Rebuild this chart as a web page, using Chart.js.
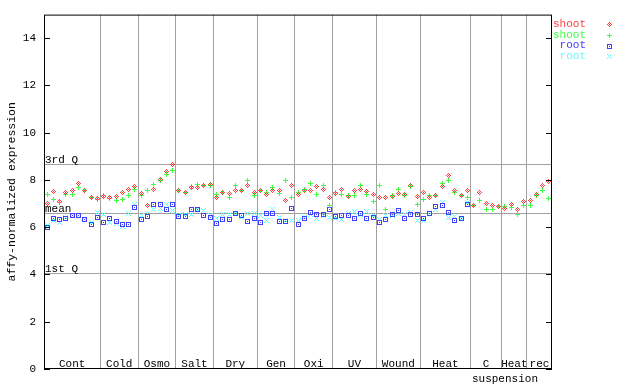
<!DOCTYPE html>
<html><head><meta charset="utf-8">
<script src="https://cdn.jsdelivr.net/npm/chart.js@4/dist/chart.umd.min.js"></script>
<style>html,body{margin:0;padding:0;background:#fff}canvas{display:block}</style>
</head><body>
<div style="width:640px;height:384px"><canvas id="c" width="640" height="384"></canvas></div>
<script>
// ---- data ----
const groupLabels = ["Cont","Cold","Osmo","Salt","Dry","Gen","Oxi","UV","Wound","Heat","C","Heat","rec"];
const groupSizes  = [9,6,6,6,7,6,6,7,7,8,5,4,4];
const subLabel = "suspension"; // second line under group "C"
const subLabelGroup = 10;
const yTicks = [0,2,4,6,8,10,12,14];
const refLabels = ["3rd Q","mean","1st Q"];
const refValues = [8.67, 6.62, 4.07];
const seriesNames = ["shoot","shoot","root","root"];

const shootA = [
 7.02,7.50,7.10,7.49,7.54,7.87,7.54,7.26,7.22,
 7.30,7.26,7.29,7.45,7.61,7.72,
 7.43,6.91,7.61,8.04,8.34,8.67,
 7.54,7.45,7.68,7.68,7.75,7.82,
 7.26,7.45,7.43,7.57,7.57,7.78,7.45,
 7.57,7.40,7.54,7.57,7.12,7.78,
 7.40,7.54,7.57,7.71,7.61,7.26,
 7.43,7.61,7.29,7.57,7.61,7.50,7.40,
 7.24,7.24,7.29,7.43,7.40,7.75,7.29,
 7.47,7.26,7.36,7.71,8.18,7.54,7.36,7.54,
 6.94,7.45,7.02,6.94,6.88,
 6.81,6.98,6.77,7.08,
 7.12,7.40,7.78,7.92];
const shootB = [
 7.40,7.19,7.05,7.40,7.40,7.68,7.54,7.26,7.19,
 7.33,7.23,7.12,7.16,7.33,7.61,
 7.36,7.57,7.82,7.99,8.22,8.42,
 7.57,7.48,7.71,7.80,7.75,7.75,
 7.40,7.45,7.26,7.75,7.54,7.96,7.33,
 7.54,7.47,7.68,7.43,7.99,7.26,
 7.47,7.61,7.85,7.40,7.75,6.91,
 7.47,7.40,7.36,7.36,7.75,7.40,7.09,
 7.75,6.77,7.36,7.61,7.36,7.71,6.95,
 7.19,7.36,7.36,7.87,7.99,7.47,7.33,7.26,
 6.94,7.12,6.77,6.73,6.87,
 6.88,6.84,6.52,6.91,
 6.91,7.33,7.57,7.23];
const rootA = [
 6.00,6.35,6.31,6.38,6.49,6.49,6.31,6.10,6.42,
 6.18,6.35,6.24,6.10,6.10,6.84,
 6.32,6.45,6.98,6.98,6.77,6.95,
 6.45,6.45,6.73,6.77,6.49,6.42,
 6.14,6.32,6.32,6.60,6.49,6.24,6.35,
 6.21,6.60,6.60,6.24,6.24,6.81,
 6.11,6.35,6.63,6.56,6.56,6.73,
 6.45,6.49,6.49,6.38,6.58,6.38,6.42,
 6.18,6.32,6.52,6.70,6.35,6.52,6.56,
 6.35,6.58,6.87,6.91,6.63,6.28,6.38,6.95,
 null,null,null,null,null,
 null,null,null,null,
 null,null,null,null];
const rootB = [
 6.07,6.28,6.18,6.42,6.49,6.49,6.31,6.21,6.63,
 6.56,6.18,6.14,6.04,6.60,6.98,
 6.49,6.58,6.77,6.80,6.98,6.70,
 6.49,6.52,6.56,6.77,6.70,6.49,
 6.35,6.56,6.56,6.60,6.42,6.60,6.60,
 6.49,6.28,6.73,6.42,6.28,6.28,
 6.28,6.42,6.56,6.35,6.49,6.42,
 6.35,6.31,6.60,6.66,6.52,6.66,6.49,
 6.32,6.49,6.49,6.60,6.56,6.63,6.28,
 6.28,6.63,6.73,7.05,6.42,6.45,6.35,7.05,
 null,null,null,null,null,
 null,null,null,null,
 null,null,null,null];

// ---- styling ----
const colors = ['#ff4040','#40ff40','#4040ff','#60ffff'];
const FONT = '"Liberation Mono", "DejaVu Sans Mono", monospace';
function marker(color, kind){
  const c = document.createElement('canvas'); c.width = 5; c.height = 5;
  const g = c.getContext('2d'); g.fillStyle = color;
  for (let dy=-2; dy<=2; dy++) for (let dx=-2; dx<=2; dx++){
    const ad=Math.abs(dx), bd=Math.abs(dy); let on=false;
    if (kind==='diamond') on = (ad+bd===2) || (ad+bd===0);
    if (kind==='plus') on = (dx===0 || dy===0);
    if (kind==='square') on = (Math.max(ad,bd)===2) || (ad+bd===0);
    if (kind==='x') on = (ad===bd);
    if (on) g.fillRect(dx+2, dy+2, 1, 1);
  }
  return c;
}
const markers = [marker(colors[0],'diamond'), marker(colors[1],'plus'), marker(colors[2],'square'), marker(colors[3],'x')];

const total = groupSizes.reduce((a,b)=>a+b,0);
const bounds = []; { let s=0; for (let i=0;i<groupSizes.length-1;i++){ s+=groupSizes[i]; bounds.push(s);} }
const toPts = arr => arr.map((v,i)=>({x:i+0.5, y:v}));
const allSeries = [shootA, shootB, rootA, rootB];

const decor = {
  id:'decor',
  beforeDatasetsDraw(chart){
    const {ctx, chartArea:a, scales:{y}} = chart;
    ctx.save();
    ctx.strokeStyle = '#a0a0a0'; ctx.lineWidth = 1;
    ctx.font = '11px ' + FONT; ctx.fillStyle = '#000'; ctx.textAlign='left'; ctx.textBaseline='alphabetic';
    refValues.forEach((v,i)=>{
      const py = Math.round(y.getPixelForValue(v)) + 0.5;
      ctx.beginPath(); ctx.moveTo(a.left, py); ctx.lineTo(a.right, py); ctx.stroke();
      ctx.fillText(refLabels[i], a.left + 1, py - 1.5);
    });
    ctx.restore();
    ctx.imageSmoothingEnabled = false;
  },
  afterDatasetsDraw(chart){ chart.ctx.imageSmoothingEnabled = true; },
  afterDraw(chart){
    const {ctx, chartArea:a, scales:{x,y}} = chart;
    ctx.save();
    ctx.strokeStyle = '#000'; ctx.lineWidth = 1;
    ctx.strokeRect(a.left+0.5, a.top+0.5, a.right-a.left-1, a.bottom-a.top-1);
    ctx.beginPath();
    yTicks.forEach(v=>{
      const py = Math.round(y.getPixelForValue(v)) + 0.5;
      ctx.moveTo(a.left, py); ctx.lineTo(a.left+6, py);
      ctx.moveTo(a.right-6, py); ctx.lineTo(a.right, py);
    });
    ctx.stroke();
    // group labels
    ctx.font = '11px ' + FONT; ctx.fillStyle = '#000'; ctx.textAlign='center'; ctx.textBaseline='alphabetic';
    let s = 0;
    groupSizes.forEach((n,i)=>{
      const cx = (x.getPixelForValue(s) + x.getPixelForValue(s+n))/2;
      ctx.fillText(groupLabels[i], cx, a.bottom - 2);
      if (i===subLabelGroup){ ctx.textAlign='left'; ctx.fillText(subLabel, x.getPixelForValue(s)+1.5, a.bottom + 13); ctx.textAlign='center'; }
      s += n;
    });
    // y title
    ctx.save();
    ctx.translate(12, (a.top+a.bottom)/2);
    ctx.rotate(-Math.PI/2);
    ctx.font = '11.5px ' + FONT; ctx.textAlign='center'; ctx.textBaseline='middle';
    ctx.fillText('affy-normalized expression', 0, 0);
    ctx.restore();
    // legend
    ctx.imageSmoothingEnabled = false;
    ctx.font = '11px ' + FONT; ctx.textAlign='right'; ctx.textBaseline='middle';
    const ly = [24,35,45.5,56];
    seriesNames.forEach((nm,i)=>{
      ctx.fillStyle = colors[i];
      ctx.fillText(nm, 586, ly[i]);
      ctx.drawImage(markers[i], 607, Math.round(ly[i])-2);
    });
    ctx.restore();
  }
};

new Chart(document.getElementById('c'), {
  type:'scatter',
  data:{ datasets: allSeries.map((arr,i)=>({
    label: seriesNames[i], data: toPts(arr), pointStyle: markers[i],
    pointRadius: 3, pointHoverRadius: 3, showLine:false
  }))},
  options:{
    responsive:false, animation:false, devicePixelRatio:1,
    layout:{ padding:{ left:0, right:88, top:13, bottom:15 } },
    plugins:{ legend:{display:false}, tooltip:{enabled:false} },
    scales:{
      x:{ type:'linear', min:0, max:total, position:'bottom',
        afterBuildTicks: s => { s.ticks = bounds.map(v=>({value:v})); },
        afterFit: s => { s.height = 0; },
        grid:{ color:'#a0a0a0', lineWidth:1, drawTicks:false },
        border:{ display:false }, ticks:{ display:false } },
      y:{ type:'linear', min:0, max:15,
        afterBuildTicks: s => { s.ticks = yTicks.map(v=>({value:v})); },
        afterFit: s => { s.width = 44; },
        grid:{ display:false, drawTicks:false }, border:{ display:false },
        ticks:{ color:'#000', padding:8, font:{ family:FONT, size:11 } } }
    }
  },
  plugins:[decor]
});
</script>
</body></html>
